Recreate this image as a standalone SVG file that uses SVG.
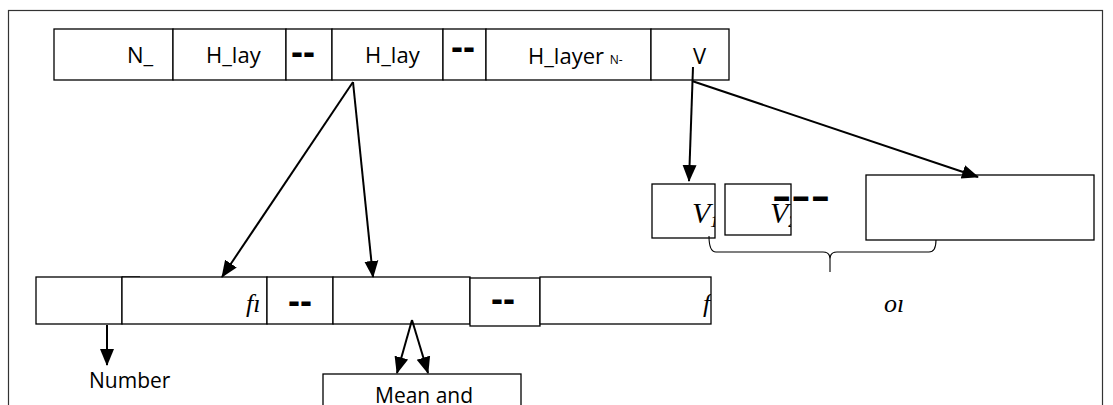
<svg xmlns="http://www.w3.org/2000/svg" width="1113" height="405" viewBox="0 0 1113 405">
<style>
.box{fill:#fff;stroke:#000;stroke-width:1.3}
.lbl{font-family:"Open Sans","Liberation Sans",sans-serif;font-size:21px;fill:#000}
.top{font-size:22px}
.dash{font-family:"Liberation Sans",sans-serif;font-weight:bold;font-size:36px;fill:#000}
.math{font-family:"Liberation Serif",serif;font-style:italic;fill:#000}
.con{stroke:#000;stroke-width:2;fill:none}
</style>
<defs>
<marker id="ah" markerUnits="userSpaceOnUse" markerWidth="17" markerHeight="16" viewBox="0 0 17 16" refX="16" refY="8" orient="auto">
<path d="M0,1 L17,8 L0,15 Z" fill="#000"/>
</marker>
<clipPath id="cV1"><rect x="652" y="184" width="63" height="54"/></clipPath>
<clipPath id="cV2"><rect x="725" y="184" width="66" height="51"/></clipPath>
<clipPath id="cF1"><rect x="122" y="277" width="145" height="47"/></clipPath>
<clipPath id="cF2"><rect x="540" y="277" width="171" height="47"/></clipPath>
</defs>
<rect id="frame" x="8.5" y="10.5" width="1094" height="400" fill="#fff" stroke="#333" stroke-width="1.2"/>

<g id="top-row">
<g id="n-box"><rect class="box" x="54" y="29" width="119" height="51"/><text class="lbl top" x="127" y="63">N_</text></g>
<g id="hlay1"><rect class="box" x="173" y="29" width="113" height="51"/><text class="lbl top" x="206" y="63">H_lay</text></g>
<g id="dash1"><rect class="box" x="286" y="29" width="46" height="51"/><text class="dash" x="291" y="64">--</text></g>
<g id="hlay2"><rect class="box" x="332" y="29" width="111" height="51"/><text class="lbl top" x="365" y="63">H_lay</text></g>
<g id="dash2"><rect class="box" x="443" y="29" width="43" height="51"/><text class="dash" x="451" y="59">--</text></g>
<g id="hlayer"><rect class="box" x="486" y="29" width="165" height="51"/><text class="lbl top" x="528" y="64">H_layer <tspan font-size="12">N-</tspan></text></g>
<g id="v-box"><rect class="box" x="651" y="29" width="78" height="51"/><text class="lbl top" x="693" y="64">V</text></g>
</g>

<g id="v-row">
<g id="v1"><rect class="box" x="652" y="184" width="63" height="54"/><text class="math" font-size="30" x="692" y="223" clip-path="url(#cV1)">V<tspan font-size="16" dy="4">1</tspan></text></g>
<g id="v2"><rect class="box" x="725" y="184" width="66" height="51"/><text class="math" font-size="30" x="770" y="223" clip-path="url(#cV2)">V<tspan font-size="16" dy="4">2</tspan></text></g>
<g id="vdash"><text class="dash" font-size="46" x="772" y="208" textLength="58" lengthAdjust="spacingAndGlyphs">---</text></g>
<g id="vbig"><rect class="box" x="866" y="175" width="228" height="65"/></g>
<g id="brace"><path d="M709,236 Q709,252 716,252 L823,252 Q830,252 830,259 L830,272 M830,259 Q830,252 837,252 L929,252 Q936,252 936,240" fill="none" stroke="#000" stroke-width="1.1"/></g>
<g id="out"><text class="math" font-size="26" x="884" y="312">oı</text></g>
</g>

<g id="bottom-row">
<g id="b1"><rect class="box" x="36" y="277" width="86" height="47"/><line x1="122" y1="277" x2="140" y2="277" stroke="#000" stroke-width="1.3"/></g>
<g id="b2"><rect class="box" x="122" y="277" width="145" height="47"/><text class="math" font-size="26" x="246" y="312" clip-path="url(#cF1)">fı</text></g>
<g id="b3"><rect class="box" x="267" y="277" width="66" height="47"/><text class="dash" x="288" y="313">--</text></g>
<g id="b4"><rect class="box" x="333" y="277" width="137" height="47"/></g>
<g id="b5"><rect class="box" x="470" y="278" width="70" height="48"/><text class="dash" x="491" y="311">--</text></g>
<g id="b6"><rect class="box" x="540" y="277" width="171" height="47"/><text class="math" font-size="26" x="703" y="312" clip-path="url(#cF2)">f</text></g>
</g>

<g id="number"><text class="lbl" x="89" y="388">Number</text></g>
<g id="mean"><rect class="box" x="323" y="374" width="198" height="40"/><text class="lbl" x="375" y="403">Mean and</text></g>

<g id="connectors">
<line class="con" x1="353" y1="82" x2="222" y2="277" marker-end="url(#ah)"/>
<line class="con" x1="353" y1="82" x2="373" y2="277" marker-end="url(#ah)"/>
<line class="con" x1="693" y1="67" x2="689" y2="181" marker-end="url(#ah)"/>
<line class="con" x1="692" y1="81" x2="978" y2="177" marker-end="url(#ah)"/>
<line class="con" x1="107" y1="325" x2="107" y2="365" marker-end="url(#ah)"/>
<line class="con" x1="412" y1="320" x2="397" y2="373" marker-end="url(#ah)"/>
<line class="con" x1="412" y1="320" x2="428" y2="373" marker-end="url(#ah)"/>
</g>
</svg>
